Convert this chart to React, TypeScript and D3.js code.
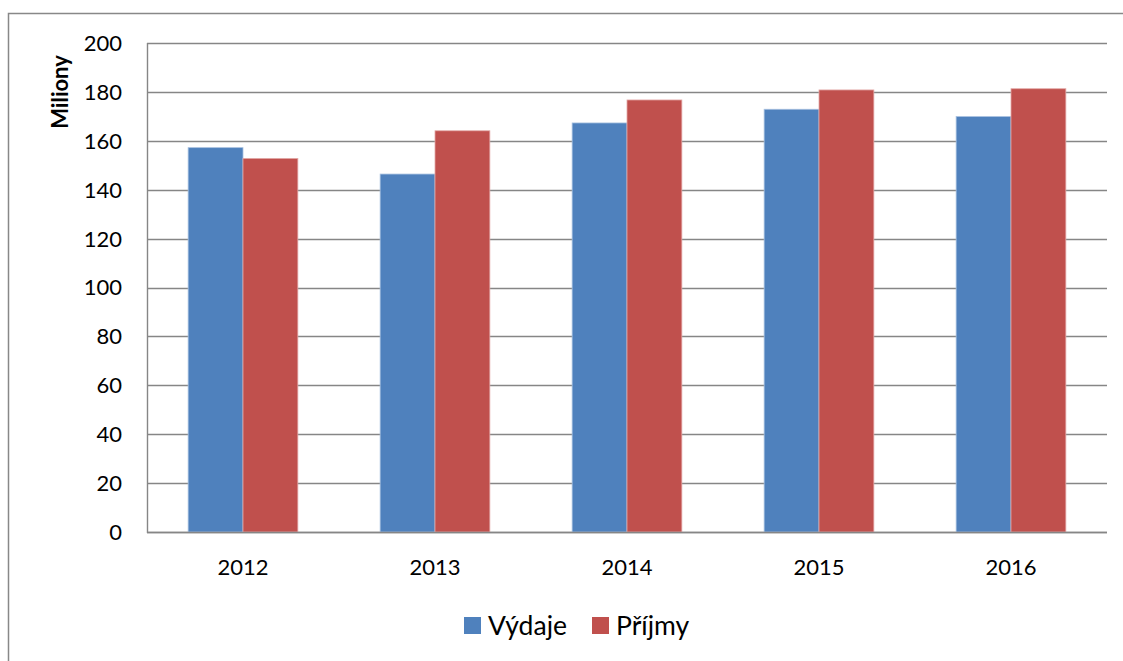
import React from 'react'
import * as d3 from 'd3'

const years = ['2012', '2013', '2014', '2015', '2016']
const vydaje = [157.2, 146.4, 167.3, 172.9, 169.9]
const prijmy = [152.8, 164.1, 176.7, 180.8, 181.3]
const seriesNames = ['Výdaje', 'Příjmy']
const yTicks = [0, 20, 40, 60, 80, 100, 120, 140, 160, 180, 200]

const colors = ['#4F81BD', '#C0504D']
const edges = ['#A7C0E0', '#E3A9A7']
const font = 'Lato, "Open Sans", sans-serif'

export default function App() {
  const width = 1123
  const height = 661
  const plot = { left: 147, right: 1107, top: 43, bottom: 532 }

  const x = d3.scaleBand().domain(years).range([plot.left, plot.right])
  const y = d3.scaleLinear().domain([0, 200]).range([plot.bottom, plot.top])
  const barW = x.bandwidth() / 3.5
  const inner = d3.scaleBand().domain(seriesNames).range([0, barW * 2])

  const values = [vydaje, prijmy]

  return (
    <svg width={width} height={height} style={{ position: 'absolute', left: 0, top: 0 }}>
      <rect x={0} y={0} width={width} height={height} fill='#fff' />
      {/* outer chart frame, cut at right and bottom */}
      <rect x={8.5} y={13.5} width={width + 20} height={height + 20} fill='none' stroke='#888' strokeWidth={1.5} />

      {yTicks.map(t => (
        <g key={t}>
          <line x1={plot.left} x2={plot.right} y1={Math.round(y(t)) + 0.5} y2={Math.round(y(t)) + 0.5}
            stroke='#868686' strokeWidth={1.4} />
          <text x={122} y={y(t)} dy='0.36em' textAnchor='end' fontFamily={font} fontSize={22} fill='#000'>{t}</text>
        </g>
      ))}
      <line x1={plot.left + 0.5} x2={plot.left + 0.5} y1={plot.top} y2={plot.bottom + 1} stroke='#868686' strokeWidth={1.4} />

      {years.map((yr, i) => (
        <g key={yr}>
          {values.map((vals, s) => {
            const bx = (x(yr) as number) + (x.bandwidth() - barW * 2) / 2 + (inner(seriesNames[s]) as number)
            return (
              <rect key={s} x={bx} y={y(vals[i])} width={barW} height={y(0) - y(vals[i])}
                fill={colors[s]} stroke={edges[s]} strokeWidth={0.8} />
            )
          })}
          <text x={(x(yr) as number) + x.bandwidth() / 2} y={567} dy='0.36em' textAnchor='middle'
            fontFamily={font} fontSize={22} fill='#000'>{yr}</text>
        </g>
      ))}
      <line x1={plot.left} x2={plot.right} y1={plot.bottom + 0.5} y2={plot.bottom + 0.5} stroke='#868686' strokeWidth={1.4} />

      <text transform='translate(60,92) rotate(-90)' dy='0.36em' textAnchor='middle' fontFamily={font}
        fontSize={22} fontWeight='bold' fill='#000'>Miliony</text>

      {/* legend */}
      <rect x={464} y={617} width={17} height={17} fill={colors[0]} />
      <text x={488} y={625} dy='0.36em' fontFamily={font} fontSize={26.5} fill='#000'>{seriesNames[0]}</text>
      <rect x={592} y={617} width={17} height={17} fill={colors[1]} />
      <text x={616} y={625} dy='0.36em' fontFamily={font} fontSize={26.5} fill='#000'>{seriesNames[1]}</text>
    </svg>
  )
}
